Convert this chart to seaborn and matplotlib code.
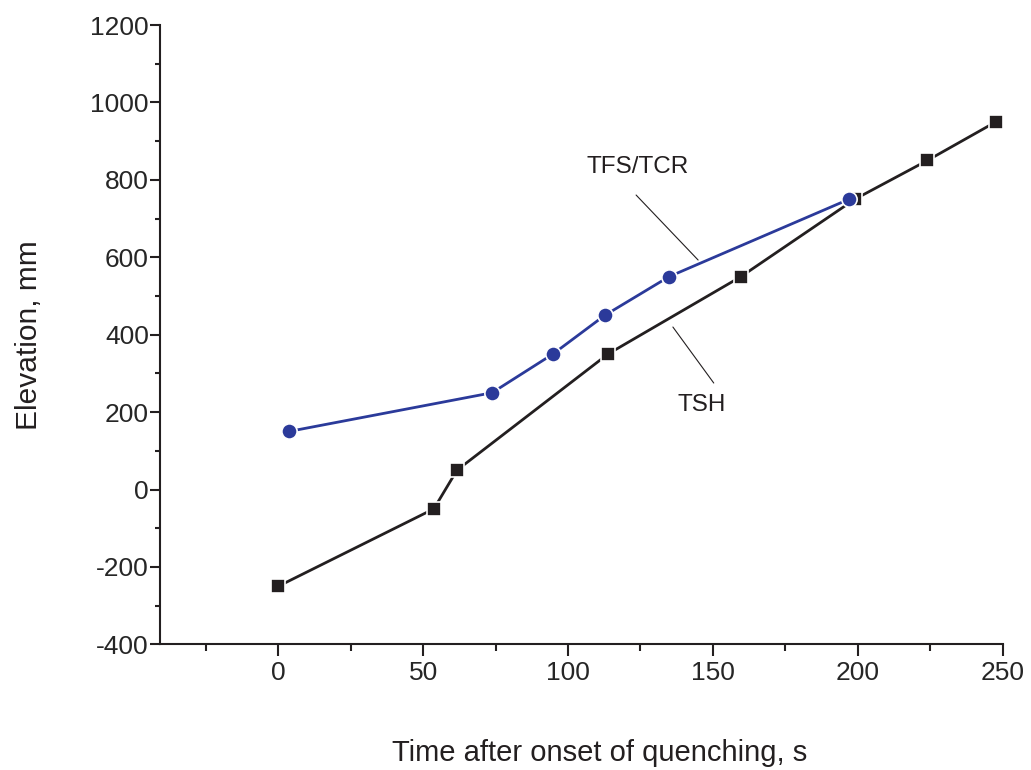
import matplotlib
matplotlib.use("Agg")
import matplotlib.pyplot as plt
import seaborn as sns
import pandas as pd
from matplotlib.ticker import MultipleLocator

# --- Veriler ---
tsh_time = [0, 53.7, 61.7, 113.8, 159.7, 199, 224, 247.7]
tsh_elev = [-250, -50, 50, 350, 550, 750, 850, 950]
tfs_time = [3.7, 73.8, 94.8, 112.7, 134.9, 197]
tfs_elev = [150, 250, 350, 450, 550, 750]

BLACK = "#231F20"
BLUE = "#2B3A9A"

sns.set_style("ticks")
plt.rcParams['font.family'] = ['Liberation Sans', 'DejaVu Sans']
plt.rcParams['axes.unicode_minus'] = False

fig = plt.figure(figsize=(10.31, 7.7), dpi=100)
ax = fig.add_axes([0.1552, 0.1632, 0.8173, 0.8043])

df_tsh = pd.DataFrame({"t": tsh_time, "z": tsh_elev})
df_tfs = pd.DataFrame({"t": tfs_time, "z": tfs_elev})

sns.lineplot(data=df_tsh, x="t", y="z", ax=ax, color=BLACK, lw=2,
             marker="s", markersize=10, markeredgecolor="white",
             markeredgewidth=1.2, markerfacecolor=BLACK)
sns.lineplot(data=df_tfs, x="t", y="z", ax=ax, color=BLUE, lw=2,
             marker="o", markersize=11, markeredgecolor="white",
             markeredgewidth=1.2, markerfacecolor=BLUE)

# --- Eksenler ---
ax.set_xlim(-40.8, 250)
ax.set_ylim(-400, 1200)
ax.xaxis.set_major_locator(MultipleLocator(50))
ax.xaxis.set_minor_locator(MultipleLocator(25))
ax.yaxis.set_major_locator(MultipleLocator(200))
ax.yaxis.set_minor_locator(MultipleLocator(100))
ax.set_xticks([0, 50, 100, 150, 200, 250])
ax.tick_params(axis="x", which="major", length=8.5, width=1.5, labelsize=19, color=BLACK, pad=3.5)
ax.tick_params(axis="x", which="minor", length=5, width=1.5, color=BLACK)
ax.tick_params(axis="y", which="major", length=7, width=1.5, labelsize=19, color=BLACK, pad=1)
ax.tick_params(axis="y", which="minor", length=3.5, width=1.5, color=BLACK)
for s in ["left", "bottom"]:
    ax.spines[s].set_linewidth(1.5)
    ax.spines[s].set_color(BLACK)
sns.despine(ax=ax)

ax.set_xlabel("Time after onset of quenching, s", fontsize=21, color=BLACK)
ax.xaxis.set_label_coords(0.522, -0.153)
ax.set_ylabel("Elevation, mm", fontsize=21.5, labelpad=34, color=BLACK)

# --- Etiketler ---
ax.text(124.1, 832, "TFS/TCR", fontsize=17.5, ha="center", va="center", color=BLACK)
ax.plot([123.5, 144.9], [760.8, 592.9], color=BLACK, lw=0.8)
ax.text(146.2, 218, "TSH", fontsize=17.5, ha="center", va="center", color=BLACK)
ax.plot([136.2, 150.3], [419.8, 275.1], color=BLACK, lw=0.8)

plt.savefig("out.png", dpi=100)
